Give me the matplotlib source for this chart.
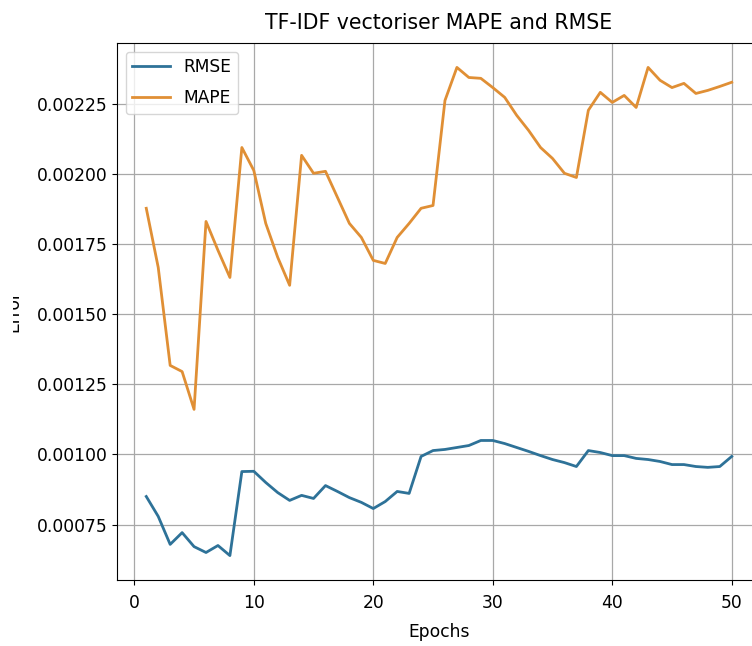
import numpy as np
import matplotlib
matplotlib.use("Agg")
import matplotlib.pyplot as plt
from matplotlib.transforms import Bbox

epochs = np.arange(1, 51)

rmse = [0.00085, 0.000779, 0.000679, 0.000721, 0.000671, 0.00065, 0.000675, 0.000639, 0.000939, 0.00094,
        0.0009, 0.000864, 0.000836, 0.000854, 0.000843, 0.000889, 0.000868, 0.000846, 0.000829, 0.000807,
        0.000832, 0.000868, 0.000861, 0.000993, 0.001014, 0.001018, 0.001025, 0.001032, 0.00105, 0.00105,
        0.001039, 0.001025, 0.001011, 0.000996, 0.000982, 0.000971, 0.000957, 0.001014, 0.001007, 0.000996,
        0.000996, 0.000986, 0.000982, 0.000975, 0.000964, 0.000964, 0.000957, 0.000954, 0.000957, 0.000993]

mape = [0.001879, 0.001668, 0.001318, 0.001296, 0.001161, 0.001832, 0.001729, 0.001632, 0.002096, 0.002014,
        0.001825, 0.001704, 0.001604, 0.002068, 0.002004, 0.002011, 0.001918, 0.001825, 0.001775, 0.001693,
        0.001682, 0.001775, 0.001825, 0.001879, 0.001889, 0.002264, 0.002382, 0.002346, 0.002343, 0.00231,
        0.002275, 0.002211, 0.002157, 0.002096, 0.002057, 0.002004, 0.001989, 0.002229, 0.002293, 0.002257,
        0.002282, 0.002239, 0.002382, 0.002336, 0.00231, 0.002325, 0.002289, 0.0023, 0.002314, 0.002329]

plt.rcParams['font.size'] = 12.3

fig = plt.figure(figsize=(7.52, 6.46), dpi=100)
# axes runs a little past the right edge, like the cropped original
ax = fig.add_axes([117 / 752, 1 - 580 / 646, 644 / 752, 537 / 646])

ax.plot(epochs, rmse, color='#2e7298', lw=2, label='RMSE')
ax.plot(epochs, mape, color='#e08f35', lw=2, label='MAPE')

ax.set_title('TF-IDF vectoriser MAPE and RMSE', fontsize=14.8, pad=10)
ax.set_xlabel('Epochs', labelpad=8)
ax.set_ylabel('Error')
ax.yaxis.set_label_coords(-0.147, 0.5)
# the original picture cuts the y label off on the left
ax.yaxis.label.set_clip_box(Bbox([[13, 0], [752, 646]]))
ax.yaxis.label.set_clip_on(True)
ax.set_xticks([0, 10, 20, 30, 40, 50])
ax.set_yticks([0.00075, 0.001, 0.00125, 0.0015, 0.00175, 0.002, 0.00225])
ax.tick_params(axis='x', pad=6.5)
ax.grid(True, color='#a8a8a8', lw=0.9)
ax.legend(loc='upper left', labelspacing=0.75, handlelength=2.2)

fig.savefig('out.png', dpi=100)
